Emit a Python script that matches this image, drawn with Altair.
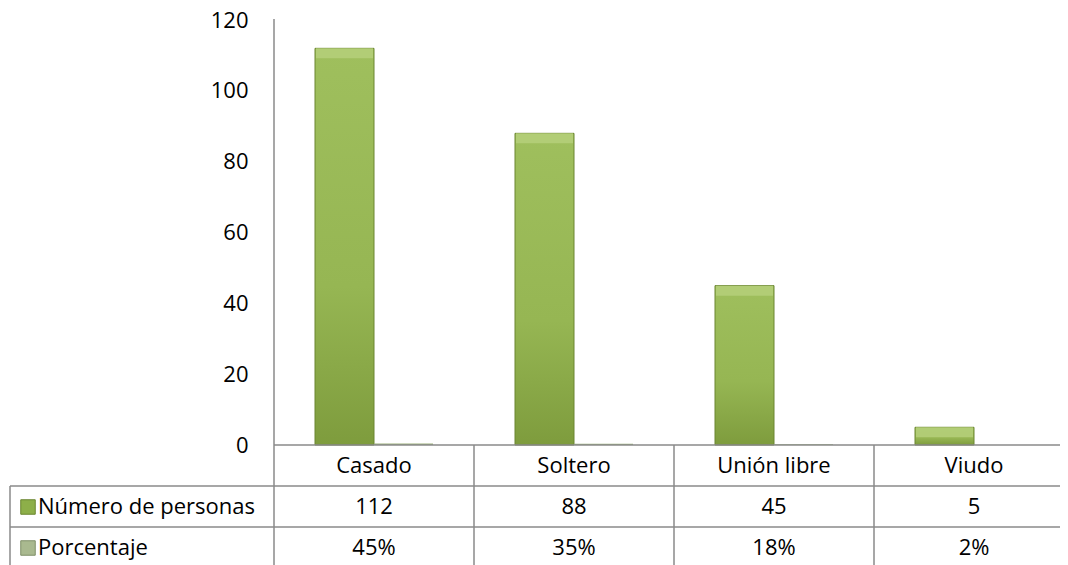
import altair as alt
import pandas as pd

categories = ["Casado", "Soltero", "Unión libre", "Viudo"]
personas = [112, 88, 45, 5]
porcentaje = [0.45, 0.35, 0.18, 0.02]
series = ["Número de personas", "Porcentaje"]
y_ticks = [0, 20, 40, 60, 80, 100, 120]

FONT = "Open Sans"
FS = 22
W, H = 786, 425
LINE = "#8a8a8a"
BOTTOM = 570

bars = pd.DataFrame({
    "cat": categories * 2,
    "serie": [series[0]] * len(categories) + [series[1]] * len(categories),
    "valor": personas + porcentaje,
})
table = pd.DataFrame({"cat": categories, "personas": personas, "pct": porcentaje})
one = pd.DataFrame({"k": [0]})

xs = alt.Scale(domain=categories, range=[0, 800], paddingInner=0, paddingOuter=0)
xo = alt.Scale(domain=series, paddingInner=0, paddingOuter=0.695)
ys = alt.Scale(domain=[0, 120], nice=False, zero=True)
yaxis = alt.Axis(values=y_ticks, title=None, grid=False, ticks=False, tickSize=0,
                 domain=False, labelFont=FONT, labelFontSize=FS, labelColor="black",
                 labelPadding=26)

X = alt.X("cat:N", scale=xs, axis=None)
XO = alt.XOffset("serie:N", scale=xo)
Y = alt.Y("valor:Q", scale=ys, axis=yaxis)

green_fill = alt.Gradient(
    gradient="linear", x1=0, x2=0, y1=0, y2=1,
    stops=[alt.GradientStop(color="#9FBF5D", offset=0),
           alt.GradientStop(color="#96B653", offset=0.6),
           alt.GradientStop(color="#7E9C3D", offset=1)])

green_bars = alt.Chart(bars).transform_filter(alt.datum.serie == series[0]).mark_bar(
    fill=green_fill, stroke="#6A8530", strokeWidth=1
).encode(x=X, xOffset=XO, y=Y)

bevel = alt.Chart(bars).transform_filter(alt.datum.serie == series[0]).mark_tick(
    thickness=10, size=57, yOffset=5, color="#B4CE79", opacity=0.9
).encode(x=X, xOffset=XO, y=Y)

pct_bars = alt.Chart(bars).transform_filter(alt.datum.serie == series[1]).mark_bar(
    color="#9DB27C"
).encode(x=X, xOffset=XO, y=Y)


def hrule(y, x1, x2):
    return alt.Chart(one).mark_rule(color=LINE, strokeWidth=1.5).encode(
        x=alt.value(x1), x2=alt.value(x2), y=alt.value(y))


def vrule(x, y1, y2):
    return alt.Chart(one).mark_rule(color=LINE, strokeWidth=1.5).encode(
        x=alt.value(x), y=alt.value(y1), y2=alt.value(y2))


col_lines = alt.Chart(table).transform_filter(alt.datum.cat != categories[0]).mark_rule(
    color=LINE, strokeWidth=1.5
).encode(x=alt.X("cat:N", scale=xs, axis=None, bandPosition=0),
         y=alt.value(H), y2=alt.value(BOTTOM))

text_kw = dict(font=FONT, fontSize=FS, baseline="middle", color="black")
row1 = alt.Chart(table).mark_text(**text_kw).encode(
    x=alt.X("cat:N", scale=xs, axis=None, bandPosition=0.5), y=alt.value(H + 21), text="cat:N")
row2 = alt.Chart(table).mark_text(**text_kw).encode(
    x=alt.X("cat:N", scale=xs, axis=None, bandPosition=0.5), y=alt.value(H + 62),
    text=alt.Text("personas:Q"))
row3 = alt.Chart(table).mark_text(**text_kw).encode(
    x=alt.X("cat:N", scale=xs, axis=None, bandPosition=0.5), y=alt.value(H + 103),
    text=alt.Text("pct:Q", format=".0%"))

leg_df = pd.DataFrame({"serie": series})
key1 = alt.Chart(leg_df).transform_filter(alt.datum.serie == series[0]).mark_square(
    size=210, color="#8DAF49", stroke="#6A8530", strokeWidth=1, opacity=1
).encode(x=alt.value(-246), y=alt.value(H + 62))
key2 = alt.Chart(leg_df).transform_filter(alt.datum.serie == series[1]).mark_square(
    size=210, color="#A9B98F", stroke="#7F8F68", strokeWidth=1, opacity=1
).encode(x=alt.value(-246), y=alt.value(H + 103))
lab1 = alt.Chart(leg_df).transform_filter(alt.datum.serie == series[0]).mark_text(
    align="left", **text_kw).encode(x=alt.value(-236), y=alt.value(H + 62), text="serie:N")
lab2 = alt.Chart(leg_df).transform_filter(alt.datum.serie == series[1]).mark_text(
    align="left", **text_kw).encode(x=alt.value(-236), y=alt.value(H + 103), text="serie:N")

chart = alt.layer(
    green_bars, bevel, pct_bars,
    hrule(H, 0, 800), hrule(H + 41, -264, 800), hrule(H + 82, -264, 800),
    vrule(0, -1, BOTTOM), vrule(-264, H + 41, BOTTOM), col_lines,
    row1, row2, row3, key1, key2, lab1, lab2,
).properties(
    width=W, height=H,
    background="white",
    autosize=alt.AutoSizeParams(type="none"),
    padding={"left": 266, "top": 12, "right": 0, "bottom": 124},
).configure_view(stroke=None)

chart.save("out.html", embed_options={"renderer": "svg", "actions": False})
